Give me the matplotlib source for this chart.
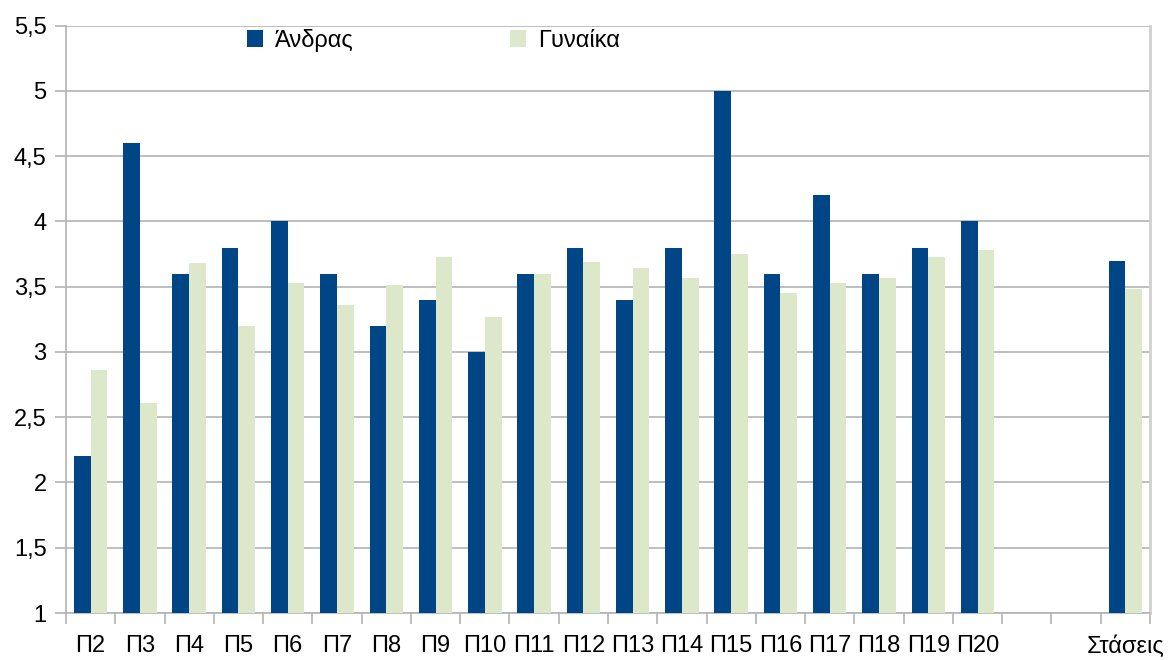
import matplotlib
matplotlib.use("Agg")
import matplotlib.pyplot as plt
import numpy as np

plt.rcParams['font.family'] = ['Liberation Sans', 'DejaVu Sans']

categories = ['Π2', 'Π3', 'Π4', 'Π5', 'Π6', 'Π7', 'Π8', 'Π9', 'Π10', 'Π11',
              'Π12', 'Π13', 'Π14', 'Π15', 'Π16', 'Π17', 'Π18', 'Π19', 'Π20',
              '', '', 'Στάσεις']
andras = [2.2, 4.6, 3.6, 3.8, 4.0, 3.6, 3.2, 3.4, 3.0, 3.6,
          3.8, 3.4, 3.8, 5.0, 3.6, 4.2, 3.6, 3.8, 4.0,
          np.nan, np.nan, 3.70]
gynaika = [2.86, 2.61, 3.68, 3.2, 3.53, 3.36, 3.51, 3.73, 3.27, 3.6,
           3.69, 3.64, 3.57, 3.75, 3.45, 3.53, 3.57, 3.73, 3.78,
           np.nan, np.nan, 3.48]
series_names = ['Άνδρας', 'Γυναίκα']
yticks = [1, 1.5, 2, 2.5, 3, 3.5, 4, 4.5, 5, 5.5]

c_a = '#004586'
c_g = '#dde8cb'

fig = plt.figure(figsize=(11.72, 6.6), dpi=100)
ax = fig.add_axes([66/1172, 1-613/660, (1150-66)/1172, (613-25.7)/660])

x = np.arange(len(categories))
w = 0.34
ax.bar(x - w/2, np.array(andras) - 1, w, bottom=1, color=c_a, label=series_names[0], zorder=3)
ax.bar(x + w/2, np.array(gynaika) - 1, w, bottom=1, color=c_g, label=series_names[1], zorder=3)

ax.set_xlim(-0.5, len(categories) - 0.5)
ax.set_ylim(1, 5.5)
ax.set_yticks(yticks)
ax.set_yticklabels([f'{v:g}'.replace('.', ',') for v in yticks])
ax.grid(axis='y', color='#b3b3b3', linewidth=1.2, zorder=0)

ax.set_xticks(np.arange(-0.5, len(categories)), minor=False)
ax.set_xticklabels([])
ax.set_xticks(x, minor=True)
ax.set_xticklabels(categories, minor=True)
ax.tick_params(axis='x', which='major', length=8, color='#b3b3b3', width=1.2)
ax.tick_params(axis='x', which='minor', length=0, pad=16, labelsize=17)
ax.tick_params(axis='y', length=8, color='#b3b3b3', width=1.2, pad=6, labelsize=17)

ax.spines['top'].set_visible(False)
ax.spines['left'].set_color('#b3b3b3')
ax.spines['bottom'].set_color('#b3b3b3')
ax.spines['right'].set_color('#d0d0d0')
for s in ['left', 'bottom']:
    ax.spines[s].set_linewidth(1.2)
ax.spines['right'].set_linewidth(2)

leg = ax.legend(loc='center', bbox_to_anchor=(0.339, 0.975), ncol=2, frameon=False,
                fontsize=17, handlelength=0.7, handleheight=0.7, handletextpad=0.5,
                columnspacing=6.6, borderaxespad=0)

fig.savefig('out.png', dpi=100)
